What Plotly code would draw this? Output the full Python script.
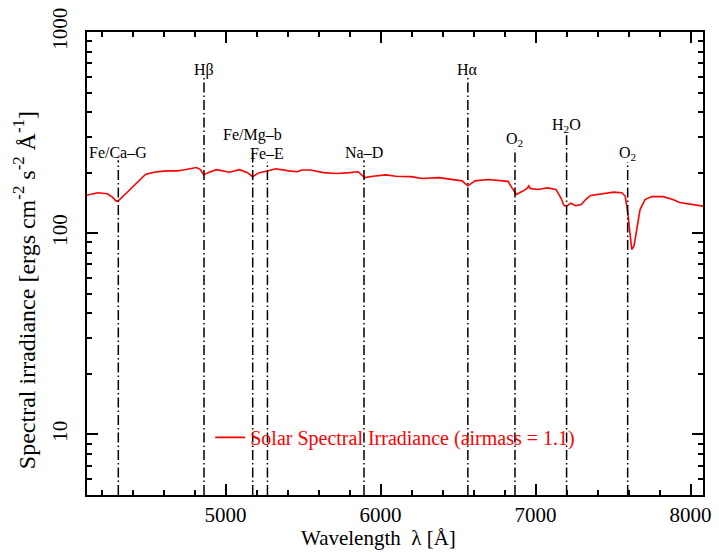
import plotly.graph_objects as go

# ---- data ----
wavelength = [4100, 4174, 4238, 4270, 4295, 4313, 4344, 4408, 4440, 4483, 4536, 4621, 4685, 4727,
              4812, 4838, 4859, 4887, 4940, 5025, 5089, 5142, 5174, 5217, 5270, 5323, 5408, 5461,
              5493, 5546, 5632, 5716, 5801, 5855, 5897, 5951, 6036, 6099, 6195, 6270, 6376, 6461,
              6525, 6563, 6610, 6695, 6738, 6822, 6848, 6876, 6918, 6945, 6956, 6965, 7014, 7078,
              7131, 7163, 7184, 7205, 7227, 7259, 7295, 7323, 7355, 7440, 7504, 7556, 7578, 7595,
              7610, 7620, 7635, 7652, 7674, 7706, 7748, 7823, 7886, 7929, 8014, 8090]
irradiance = [154, 159, 157, 151, 144, 146, 154, 172, 182, 196, 201, 204, 204, 206,
              212, 207, 195, 200, 207, 201, 207, 200, 191, 200, 204, 209, 204, 202,
              206, 206, 200, 198, 200, 202, 189, 192, 195, 192, 191, 187, 189, 185,
              182, 172, 182, 185, 184, 181, 168, 156, 162, 167, 172, 167, 165, 168,
              165, 150, 137, 137, 141, 137, 139, 147, 154, 158, 160, 159, 153, 126,
              93, 83, 86.5, 105, 131, 147, 152, 152, 147, 142, 139, 136]

line_wavelengths = [4308, 4861, 5175, 5270, 5893, 6563, 6867, 7200, 7594]
line_labels = ["Fe/Ca–G", "Hβ", "Fe/Mg–b", "Fe–E", "Na–D", "Hα",
               "O<sub>2</sub>", "H<sub>2</sub>O", "O<sub>2</sub>"]

x_tickvals = [5000, 6000, 7000, 8000]
y_tickvals = [10, 100, 1000]

# ---- layout constants (paper coords) ----
line_tops = [0.723, 0.901, 0.751, 0.719, 0.723, 0.901, 0.747, 0.777, 0.719]
label_y = [0.740, 0.918, 0.777, 0.738, 0.740, 0.918, 0.768, 0.798, 0.738]

FONT = "Liberation Serif"

fig = go.Figure()
fig.add_trace(go.Scatter(
    x=wavelength, y=irradiance, mode="lines",
    line=dict(color="#ff0000", width=1.6),
    name="Solar Spectral Irradiance (airmass = 1.1)",
))

for wl, top in zip(line_wavelengths, line_tops):
    fig.add_shape(type="line", xref="x", yref="paper", x0=wl, x1=wl, y0=0, y1=top,
                  line=dict(color="black", width=1.5, dash="10px,3px,1.5px,3px"))

for wl, lab, ly in zip(line_wavelengths, line_labels, label_y):
    fig.add_annotation(x=wl, y=ly, xref="x", yref="paper", text=lab, showarrow=False,
                       xanchor="center", yanchor="middle",
                       font=dict(family=FONT, size=16, color="black"))

fig.add_annotation(x=0.473, y=-0.092, xref="paper", yref="paper",
                   text="Wavelength  λ [Å]", showarrow=False,
                   xanchor="center", yanchor="middle",
                   font=dict(family=FONT, size=21, color="black"))
fig.add_annotation(x=-0.101, y=0.442, xref="paper", yref="paper",
                   text="Spectral irradiance [ergs cm<sup>-2</sup> s<sup>-2</sup> Å<sup>-1</sup>]",
                   showarrow=False, textangle=-90,
                   xanchor="center", yanchor="middle",
                   font=dict(family=FONT, size=24, color="black"))

minor_y = [5, 6, 7, 8, 9] + [v * 10 for v in range(2, 10)] + [v * 100 for v in range(2, 10)]

fig.update_xaxes(
    range=[4106, 8080], tickmode="array", tickvals=x_tickvals,
    ticks="inside", ticklen=11, tickwidth=1.5, tickcolor="black",
    showline=True, linecolor="black", linewidth=2, mirror="allticks",
    showgrid=False, zeroline=False,
    tickfont=dict(family=FONT, size=21, color="black"),
    ticklabelstandoff=0,
    minor=dict(dtick=200, tick0=4000, ticks="inside", ticklen=5, tickwidth=1.5,
               tickcolor="black", showgrid=False),
)
fig.update_yaxes(
    type="log", range=[0.69897, 3], tickmode="array", tickvals=y_tickvals,
    ticktext=["10", "100", "1000"],
    ticks="inside", ticklen=11, tickwidth=1.5, tickcolor="black",
    showline=True, linecolor="black", linewidth=2, mirror="allticks",
    showgrid=False, zeroline=False, tickangle=-90,
    tickfont=dict(family=FONT, size=21, color="black"),
    ticklabelstandoff=10,
    minor=dict(tickmode="array", tickvals=minor_y, ticks="inside", ticklen=5,
               tickwidth=1.5, tickcolor="black", showgrid=False),
)

fig.update_layout(
    width=719, height=552,
    margin=dict(l=87, r=8, t=29, b=57),
    paper_bgcolor="white", plot_bgcolor="white",
    showlegend=True,
    legend=dict(x=0.200, y=0.1245, xanchor="left", yanchor="middle",
                bgcolor="rgba(0,0,0,0)", borderwidth=0,
                font=dict(family=FONT, size=20, color="#ff0000")),
)

fig.write_html("out.html")
